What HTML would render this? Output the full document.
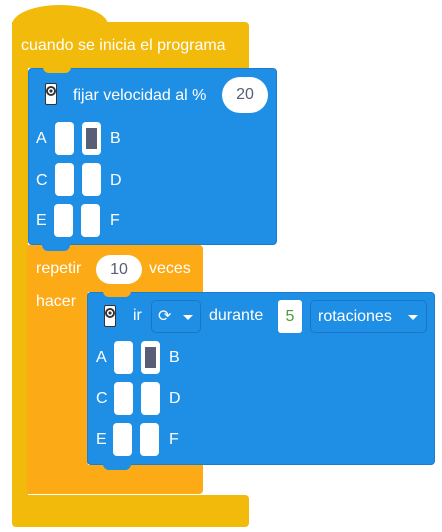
<!DOCTYPE html>
<html><head><meta charset="utf-8"><style>
body{margin:0;width:442px;height:532px;background:#fff;position:relative;overflow:hidden;font-family:"Liberation Sans",sans-serif;}
div{position:absolute;box-sizing:border-box}
.t{color:#fff;font-size:16px;line-height:20px;white-space:nowrap}
.y{background:#f2ba0b}
.o{background:#fdaa17}
.b{background:#1f8fe5;border-radius:4px;border:1px solid #1a7dd0}
.box{background:#fff;border-radius:4px;width:19px;height:33px}
.on::after{content:"";position:absolute;left:4px;top:6px;width:11px;height:21px;background:#575e75}
.dd{border:1px solid #1a76c4;border-radius:5px;height:33px}
.ic{width:12px;height:22px;background:#fff;border:1px solid #333;border-radius:2px}
.ic::after{content:"";position:absolute;left:0px;top:2px;width:10px;height:10px;border-radius:50%;background:radial-gradient(#333 20%,#fff 25%,#fff 40%,#333 45%)}
.tri{width:0;height:0;border-left:5px solid transparent;border-right:5px solid transparent;border-top:5px solid #fff}
</style></head><body>
<!-- hat -->
<div class="y" style="left:12px;top:5px;width:96px;height:40px;border-radius:48px 48px 0 0 / 20px 20px 0 0"></div>
<div class="y" style="left:12px;top:22px;width:237px;height:46px;border-radius:0 4px 0 0"></div>
<div class="t" style="left:21px;top:36px">cuando se inicia el programa</div>
<div class="y" style="left:12px;top:60px;width:16px;height:450px"></div>
<div class="y" style="left:12px;top:495px;width:237px;height:32px;border-radius:0 4px 4px 4px"></div>

<!-- blue block 1 -->
<div class="b" style="left:28px;top:68px;width:249px;height:177px"></div>
<div class="y" style="left:43px;top:67px;width:28px;height:6px;border-radius:0 0 6px 6px"></div>
<div class="ic" style="left:45px;top:83px"></div>
<div class="t" style="left:73px;top:86px">fijar velocidad al %</div>
<div style="left:222px;top:77px;width:46px;height:36px;background:#fff;border-radius:18px;color:#575e75;font-size:16px;text-align:center;line-height:36px">20</div>
<div class="t" style="left:36px;top:129px">A</div>
<div class="box" style="left:55px;top:122px"></div>
<div class="box on" style="left:82px;top:122px"></div>
<div class="t" style="left:110px;top:129px">B</div>
<div class="t" style="left:36px;top:171px">C</div>
<div class="box" style="left:55px;top:163px"></div>
<div class="box" style="left:82px;top:163px"></div>
<div class="t" style="left:110px;top:171px">D</div>
<div class="t" style="left:36px;top:211px">E</div>
<div class="box" style="left:54px;top:204px"></div>
<div class="box" style="left:81px;top:204px"></div>
<div class="t" style="left:110px;top:211px">F</div>

<!-- repeat block -->
<div class="o" style="left:27px;top:245px;width:176px;height:47px;border-radius:0 4px 0 0"></div>
<div class="b" style="left:42px;top:244px;width:28px;height:7px;border-radius:0 0 6px 6px;border:none"></div>
<div class="o" style="left:27px;top:290px;width:61px;height:180px"></div>
<div class="o" style="left:27px;top:465px;width:176px;height:29px;border-radius:0 0 4px 0"></div>
<div class="t" style="left:36px;top:259px">repetir</div>
<div style="left:96px;top:255px;width:46px;height:29px;background:#fff;border-radius:15px;color:#575e75;font-size:16px;text-align:center;line-height:29px">10</div>
<div class="t" style="left:149px;top:259px">veces</div>
<div class="t" style="left:36px;top:292px">hacer</div>

<!-- blue block 2 -->
<div class="b" style="left:87px;top:292px;width:348px;height:173px"></div>
<div class="o" style="left:103px;top:291px;width:28px;height:6px;border-radius:0 0 6px 6px"></div>
<div class="ic" style="left:104px;top:305px"></div>
<div class="t" style="left:133px;top:306px">ir</div>
<div class="dd" style="left:151px;top:300px;width:50px"><div class="t" style="left:6px;top:6px">⟳</div><div class="tri" style="left:31px;top:14px"></div></div>
<div class="t" style="left:209px;top:306px">durante</div>
<div style="left:278px;top:300px;width:24px;height:33px;background:#fff;border-radius:3px;color:#4c9a3a;font-size:16px;text-align:center;line-height:33px">5</div>
<div class="dd" style="left:310px;top:300px;width:117px"><div class="t" style="left:7px;top:6px">rotaciones</div><div class="tri" style="left:97px;top:14px"></div></div>
<div class="t" style="left:96px;top:348px">A</div>
<div class="box" style="left:114px;top:341px"></div>
<div class="box on" style="left:141px;top:341px"></div>
<div class="t" style="left:169px;top:348px">B</div>
<div class="t" style="left:96px;top:389px">C</div>
<div class="box" style="left:114px;top:382px"></div>
<div class="box" style="left:141px;top:382px"></div>
<div class="t" style="left:169px;top:389px">D</div>
<div class="t" style="left:96px;top:430px">E</div>
<div class="box" style="left:113px;top:423px"></div>
<div class="box" style="left:140px;top:423px"></div>
<div class="t" style="left:169px;top:430px">F</div>
<div class="b" style="left:103px;top:463px;width:28px;height:7px;border-radius:0 0 6px 6px;border:none"></div>
</body></html>
